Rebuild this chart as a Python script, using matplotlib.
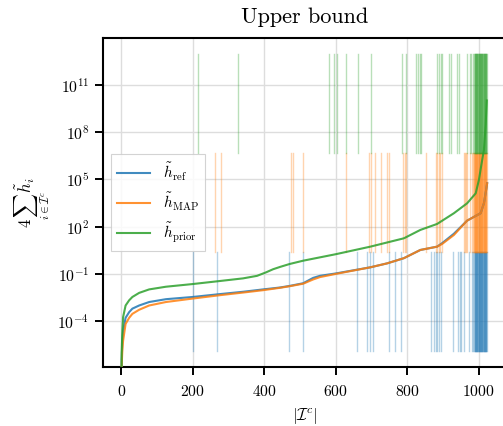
import numpy as np
import matplotlib
matplotlib.use("Agg")
import matplotlib.pyplot as plt

plt.rcParams['font.family'] = ['cmr10', 'DejaVu Serif']
plt.rcParams['mathtext.fontset'] = 'cm'
plt.rcParams['axes.unicode_minus'] = False
plt.rcParams['axes.formatter.use_mathtext'] = True

# ---- data (log10 of the summed bound) ----
ref_x = [0, 1, 3, 5, 12, 22, 31, 50, 78, 125, 200, 275, 341, 397, 444, 471, 509, 537, 556, 600,
         697, 744, 791, 837, 884, 898, 931, 968, 992, 1006, 1015, 1022, 1024]
ref_log = [-9, -6.5, -5.2, -4.6, -3.78, -3.42, -3.2, -3.0, -2.78, -2.6, -2.46, -2.28, -2.13, -1.98,
           -1.86, -1.76, -1.59, -1.25, -1.12, -0.97, -0.58, -0.33, 0.0, 0.52, 0.73, 0.95, 1.55,
           2.38, 2.68, 2.85, 3.48, 4.43, 4.75]

map_x = [0, 1, 3, 5, 12, 22, 31, 50, 78, 125, 200, 275, 341, 397, 444, 471, 509, 537, 556, 600,
         697, 744, 791, 837, 884, 898, 931, 968, 992, 1006, 1015, 1022, 1024]
map_log = [-9, -6.8, -5.8, -5.24, -4.17, -3.78, -3.53, -3.27, -3.0, -2.78, -2.56, -2.35, -2.18,
           -2.03, -1.88, -1.78, -1.62, -1.35, -1.2, -1.0, -0.58, -0.33, 0.0, 0.52, 0.73, 0.9,
           1.47, 2.38, 2.68, 2.85, 3.48, 4.43, 4.75]

prior_x = [0, 1, 3, 5, 12, 22, 31, 50, 78, 125, 200, 275, 341, 380, 405, 425, 445, 471, 509, 600,
           697, 791, 837, 884, 931, 968, 992, 1001, 1007, 1015, 1020, 1023]
prior_log = [-9, -6.0, -4.6, -3.74, -3.0, -2.67, -2.46, -2.2, -1.98, -1.81, -1.64, -1.45, -1.28,
             -1.12, -0.9, -0.7, -0.55, -0.37, -0.16, 0.25, 0.73, 1.26, 1.79, 2.17, 2.85, 3.48,
             4.11, 4.96, 5.8, 6.86, 8.5, 10.0]

ref_marks = [200, 269, 469, 508, 661, 689, 697, 705, 748, 767, 784, 866, 876, 880, 885, 890, 894,
             928, 942, 947, 951, 958, 972, 983, 985, 987, 989, 990, 991, 992, 993, 994, 995, 996,
             997, 998, 999, 1000, 1001, 1002, 1003, 1004, 1005, 1006, 1007, 1008, 1009, 1010, 1011,
             1012, 1013, 1014, 1015, 1016, 1017, 1018, 1019, 1020, 1021, 1022, 1023]
map_marks = [262, 279, 474, 480, 510, 630, 693, 699, 710, 727, 744, 750, 789, 794, 797, 852, 881,
             885, 890, 893, 897, 958, 961, 965, 968, 977, 981, 984, 986, 988, 989, 990, 991, 992,
             993, 994, 995, 996, 997, 998, 999, 1000, 1001, 1002, 1003, 1004, 1005, 1006, 1007,
             1008, 1009, 1010, 1011, 1012, 1013, 1014, 1015, 1016, 1017, 1018, 1019, 1020, 1021,
             1022, 1023]
prior_marks = [215, 326, 581, 595, 605, 630, 663, 700, 787, 797, 825, 830, 836, 840, 885, 890, 894,
               899, 918, 923, 941, 944, 969, 975, 979, 984, 988, 989, 990, 991, 992, 993, 994, 995,
               996, 997, 998, 999, 1000, 1001, 1002, 1003, 1004, 1005, 1006, 1007, 1008, 1009,
               1010, 1011, 1012, 1013, 1014, 1015, 1016, 1017, 1018, 1019, 1020, 1021, 1022, 1023]

labels = [r'$\tilde{h}_{\mathrm{ref}}$', r'$\tilde{h}_{\mathrm{MAP}}$', r'$\tilde{h}_{\mathrm{prior}}$']
colors = ['#1f77b4', '#ff7f0e', '#2ca02c']

fig = plt.figure(figsize=(5.03, 4.26), dpi=100)
ax = fig.add_axes([0.2048, 0.1385, 0.80, 0.7723])

series = [(ref_x, ref_log, ref_marks, 0.05, 0.35),
          (map_x, map_log, map_marks, 0.35, 0.65),
          (prior_x, prior_log, prior_marks, 0.65, 0.95)]
for (xs, ls, marks, y0, y1), c, lab in zip(series, colors, labels):
    for m in marks:
        ax.axvline(m, ymin=y0, ymax=y1, color=c, alpha=0.33, lw=1.0, zorder=1)
for (xs, ls, marks, y0, y1), c, lab in zip(series, colors, labels):
    ax.plot(xs, 10.0 ** np.array(ls), color=c, lw=1.5, alpha=0.85, label=lab, zorder=3)

ax.set_yscale('log')
ax.set_ylim(10 ** -6.9, 10 ** 13.96)
ax.set_xlim(-51.2, 1075.2)
ax.set_yticks([1e-4, 1e-1, 1e2, 1e5, 1e8, 1e11])
ax.yaxis.set_minor_locator(matplotlib.ticker.NullLocator())
ax.set_xticks([0, 200, 400, 600, 800, 1000])

ax.grid(True, color='#dddddd', lw=1.0, zorder=0)
ax.set_axisbelow(True)
for s in ax.spines.values():
    s.set_color('black')
    s.set_linewidth(1.5)
ax.spines['right'].set_visible(False)
ax.tick_params(axis='both', which='major', labelsize=11.3, length=6, width=1.4, color='black',
               pad=4)
ax.tick_params(axis='x', pad=6)

ax.set_title('Upper bound', fontsize=16, pad=11)
ax.set_xlabel(r'$|\mathcal{I}^c|$', fontsize=12, labelpad=5)
ax.set_ylabel(r'$4\sum_{i\in\mathcal{I}^c}\tilde{h}_i$', fontsize=12)

leg = ax.legend(loc='center left', fontsize=11, frameon=True, fancybox=False,
                edgecolor='#cccccc', framealpha=0.85, handlelength=2.2,
                borderaxespad=0.5)
leg.get_frame().set_linewidth(0.8)

fig.savefig('out.png', dpi=100)
